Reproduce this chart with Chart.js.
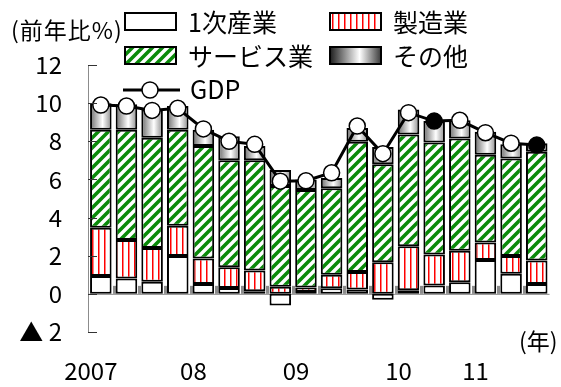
<!DOCTYPE html>
<html>
<head>
<meta charset="utf-8">
<script src="https://cdn.jsdelivr.net/npm/chart.js@4.4.1/dist/chart.umd.min.js"></script>
<style>
  body { margin: 0; background: #fff; }
  #wrap { position: relative; width: 561px; height: 387px; }
</style>
</head>
<body>
<div id="wrap"><canvas id="chart" width="561" height="387"></canvas></div>
<script>
// quarters 2007Q1 .. 2011Q2
const quarterLabels = ['2007', '', '', '', '08', '', '', '', '09', '', '', '', '10', '', '', '11', '', ''];
const primary     = [0.93, 0.80, 0.63, 1.98, 0.52, 0.31, 0.14, -0.61, 0.10, 0.29, 0.23, -0.31, 0.19, 0.44, 0.61, 1.77, 1.05, 0.52];
const manufacture = [2.53, 2.02, 1.77, 1.59, 1.33, 1.09, 1.08, 0.37, 0.23, 0.71, 0.91, 1.66, 2.31, 1.62, 1.65, 0.92, 0.93, 1.23];
const services    = [5.14, 5.78, 5.79, 5.03, 5.90, 5.60, 5.78, 5.28, 5.12, 4.54, 6.84, 5.13, 5.86, 5.87, 5.88, 4.61, 5.12, 5.70];
const others      = [1.40, 1.34, 1.48, 1.25, 0.85, 1.27, 0.75, 0.85, 0.55, 0.54, 0.72, 0.91, 1.31, 1.13, 0.96, 1.20, 0.75, 0.45];
const gdp         = [9.90, 9.85, 9.62, 9.73, 8.65, 8.00, 7.84, 5.91, 5.93, 6.35, 8.80, 7.35, 9.50, 9.06, 9.10, 8.45, 7.90, 7.80];
const yTicks      = [-2, 0, 2, 4, 6, 8, 10, 12];

const FONT = "'Noto Sans CJK JP', sans-serif";
const BAR_PCT = 0.84;

// --- fill patterns ---
const makePattern = (w, h, draw) => {
  const c = document.createElement('canvas');
  c.width = w; c.height = h;
  const g = c.getContext('2d');
  g.fillStyle = '#fff';
  g.fillRect(0, 0, w, h);
  draw(g);
  return g.createPattern(c, 'repeat');
};

const redStripes = makePattern(6, 6, g => {
  g.fillStyle = '#ff0000';
  g.fillRect(2, 0, 1.5, 6);
});

const greenHatch = makePattern(10, 10, g => {
  g.strokeStyle = '#0a8a0a';
  g.lineWidth = 3.6;
  g.beginPath();
  g.moveTo(-5, 5); g.lineTo(5, -5);
  g.moveTo(0, 10); g.lineTo(10, 0);
  g.moveTo(5, 15); g.lineTo(15, 5);
  g.stroke();
});

const grayGradient = (ctx, x0, x1, dark) => {
  const gr = ctx.createLinearGradient(x0, 0, x1, 0);
  gr.addColorStop(0, dark ? '#1e1e1e' : '#6a6a6a');
  gr.addColorStop(0.58, '#ffffff');
  gr.addColorStop(1, dark ? '#3a3a3a' : '#8a8a8a');
  return gr;
};

const othersFill = (c) => {
  const xs = c.chart.scales.x;
  if (!xs || c.dataIndex == null) return '#bbb';
  const cx = xs.getPixelForValue(c.dataIndex);
  const w = xs.width / quarterLabels.length * BAR_PCT;
  if (!Number.isFinite(cx) || !Number.isFinite(w) || w <= 0) return '#bbb';
  return grayGradient(c.chart.ctx, cx - w / 2, cx + w / 2, false);
};

// --- axis decoration, legend and notes ---
const decorations = {
  id: 'decorations',
  beforeDatasetsDraw(chart) {
    const { ctx, chartArea, scales } = chart;
    const y0 = scales.y.getPixelForValue(0);
    ctx.save();
    ctx.strokeStyle = '#8c8c8c';
    ctx.lineWidth = 1;
    ctx.beginPath();
    ctx.moveTo(chartArea.left, y0 + 0.5);
    ctx.lineTo(chartArea.right, y0 + 0.5);
    ctx.stroke();
    // small category ticks between bars
    const step = scales.x.width / quarterLabels.length;
    ctx.fillStyle = '#8c8c8c';
    for (let i = 1; i < quarterLabels.length; i++) {
      const x = chartArea.left + i * step;
      ctx.fillRect(Math.round(x) - 1, y0 - 8, 3, 8);
    }
    ctx.restore();
  },
  afterDraw(chart) {
    const { ctx, chartArea, scales } = chart;
    ctx.save();
    // inward tick marks on the value axis
    ctx.strokeStyle = '#333';
    ctx.lineWidth = 1;
    yTicks.forEach(v => {
      const y = Math.round(scales.y.getPixelForValue(v)) + 0.5;
      ctx.beginPath();
      ctx.moveTo(chartArea.left, y);
      ctx.lineTo(chartArea.left + 9, y);
      ctx.stroke();
    });

    // legend swatches
    ctx.lineWidth = 2;
    ctx.strokeStyle = '#000';
    const box = (x, y, fill) => {
      ctx.fillStyle = fill;
      ctx.fillRect(x, y, 51, 17);
      ctx.strokeRect(x, y, 51, 17);
    };
    box(125, 13, '#fff');
    box(330, 13, redStripes);
    box(125, 47, greenHatch);
    box(330, 47, grayGradient(ctx, 330, 381, true));

    ctx.lineWidth = 3;
    ctx.beginPath();
    ctx.moveTo(123, 90);
    ctx.lineTo(180, 90);
    ctx.stroke();
    ctx.beginPath();
    ctx.arc(150, 90, 8, 0, Math.PI * 2);
    ctx.fillStyle = '#fff';
    ctx.fill();
    ctx.lineWidth = 1.5;
    ctx.stroke();

    ctx.fillStyle = '#000';
    ctx.textBaseline = 'middle';
    ctx.textAlign = 'left';
    ctx.font = '25px ' + FONT;
    ctx.fillText('1次産業', 188, 22);
    ctx.fillText('製造業', 393, 22);
    ctx.fillText('サービス業', 188, 56);
    ctx.fillText('その他', 393, 56);
    ctx.fillText('GDP', 190, 89);

    ctx.font = '23px ' + FONT;
    ctx.letterSpacing = '1px';
    ctx.fillText('(前年比%)', 11, 30);
    ctx.letterSpacing = '0px';
    ctx.fillText('(年)', 519, 341);
    ctx.restore();
  }
};

const barBase = {
  type: 'bar',
  order: 1,
  borderColor: '#000',
  borderWidth: 2,
  borderSkipped: false,
  barPercentage: BAR_PCT,
  categoryPercentage: 1
};

new Chart(document.getElementById('chart'), {
  data: {
    labels: quarterLabels,
    datasets: [
      {
        type: 'line',
        label: 'GDP',
        order: 0,
        data: gdp,
        borderColor: '#000',
        borderWidth: 3,
        pointRadius: 8,
        pointBorderWidth: 1.5,
        pointBorderColor: '#000',
        pointBackgroundColor: c => (c.dataIndex === 13 || c.dataIndex === 17) ? '#000' : '#fff',
        tension: 0
      },
      { ...barBase, label: '1次産業', data: primary, backgroundColor: '#fff' },
      { ...barBase, label: '製造業', data: manufacture, backgroundColor: redStripes },
      { ...barBase, label: 'サービス業', data: services, backgroundColor: greenHatch },
      { ...barBase, label: 'その他', data: others, backgroundColor: othersFill }
    ]
  },
  options: {
    responsive: false,
    animation: false,
    layout: { padding: { top: 65, right: 0, left: 0, bottom: 0 } },
    plugins: {
      legend: { display: false },
      tooltip: { enabled: false }
    },
    scales: {
      x: {
        stacked: true,
        grid: { display: false, drawTicks: false },
        border: { display: false },
        ticks: {
          autoSkip: false,
          maxRotation: 0,
          padding: 24,
          labelOffset: -10,
          color: '#000',
          font: { family: FONT, size: 24 }
        },
        afterFit: s => { s.height = 55; }
      },
      y: {
        stacked: true,
        min: -2,
        max: 12,
        grid: { display: false, drawTicks: false },
        border: { display: true, color: '#8c8c8c', width: 1 },
        ticks: {
          stepSize: 2,
          padding: 26,
          color: '#000',
          font: { family: FONT, size: 24 },
          callback: v => v < 0 ? '▲ ' + (-v) : String(v)
        },
        afterFit: s => { s.width = 88; }
      }
    }
  },
  plugins: [decorations]
});
</script>
</body>
</html>
